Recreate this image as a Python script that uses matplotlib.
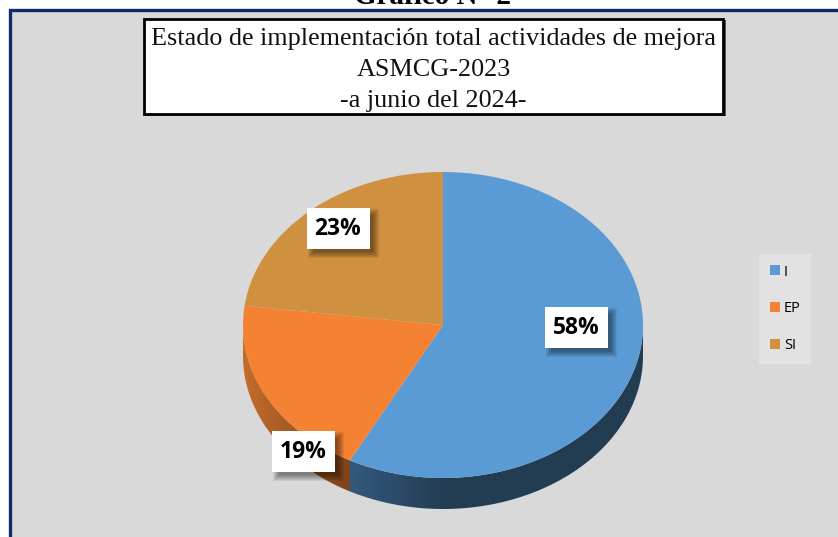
import numpy as np
import matplotlib
matplotlib.use('Agg')
import matplotlib.pyplot as plt
from matplotlib.colors import LinearSegmentedColormap
from matplotlib.patches import Rectangle, Polygon

categories = ['I', 'EP', 'SI']
values = [57.7, 19.3, 23]
colors = ['#5b9bd5', '#f58233', '#cf9040']
pct_labels = ['58%', '19%', '23%']
title_lines = ['Estado de implementación total actividades de mejora', 'ASMCG-2023', '-a junio del 2024-']
W, H = 838, 537

fig = plt.figure(figsize=(W / 100, H / 100), dpi=100, facecolor='white')

# background in pixel coordinates
bg = fig.add_axes([0, 0, 1, 1])
bg.set_xlim(0, W)
bg.set_ylim(H, 0)
bg.axis('off')
bg.add_patch(Rectangle((9.5, 9.5), W + 20, H + 20, fc='#d9d9d9', ec='#0d2c6e', lw=2.4))
bg.text(432.5, -3, 'Gráfico N° 2', family='Liberation Serif', weight='bold', fontsize=21, ha='center', va='center')

# title box
bg.add_patch(Rectangle((145, 20), 581, 96, fc='#555555', ec='none'))
bg.add_patch(Rectangle((144, 18.5), 579, 95.5, fc='white', ec='black', lw=2))
for i, line in enumerate(title_lines):
    bg.text(433.5, 39.5 + i * 30.5, line, family='Liberation Serif', fontsize=18.8, ha='center', va='center', color='#111111')

# pie squashed into an ellipse, wall below it
depth = 31 / 153
px, py, pw, ph = 243, 172, 400, 306 + 31
ax = fig.add_axes([px / W, 1 - (py + ph) / H, pw / W, ph / H])
ax.patch.set_alpha(0)
ax.pie(values, colors=colors, startangle=90, counterclock=False, radius=1)
ax.set_aspect('auto')

edges = np.cumsum([0] + values) / sum(values) * 360
blue_cmap = LinearSegmentedColormap.from_list('b', ['#33597c', '#223c52', '#223c52', '#223c52'])
orange_cmap = LinearSegmentedColormap.from_list('o', ['#c46d2d', '#7d431a'])
wall_cmaps = [blue_cmap, orange_cmap]
for i in range(2):
    a0 = max(edges[i], 90)
    a1 = min(edges[i + 1], 270)
    th = np.radians(np.linspace(a0, a1, 120))
    x = np.sin(th)
    y = np.cos(th)
    pts = np.column_stack([np.r_[x, x[::-1]], np.r_[y, y[::-1] - depth]])
    poly = Polygon(pts, closed=True, fc='none', ec='none', transform=ax.transData)
    ax.add_patch(poly)
    grad = np.linspace(0, 1, 256).reshape(1, -1)
    im = ax.imshow(grad, extent=[x.min(), x.max(), -1 - depth, 1], aspect='auto', cmap=wall_cmaps[i], zorder=0)
    im.set_clip_path(poly)
ax.set_xlim(-1, 1)
ax.set_ylim(-1 - depth, 1)
ax.set_aspect('auto')

# percent labels on a top layer
top = fig.add_axes([0, 0, 1, 1], facecolor='none')
top.set_xlim(0, W)
top.set_ylim(H, 0)
top.axis('off')
label_pos = [(576.5, 327), (303.5, 451.5), (338, 228)]
for txt, (lx, ly) in zip(pct_labels, label_pos):
    # soft shadow
    for grow in [4, 3, 2, 1, 0, -1, -2]:
        top.add_patch(Rectangle((lx - 31.5 + 5 - grow, ly - 20.5 + 5 - grow), 63 + 2 * grow, 41 + 2 * grow,
                                fc='black', ec='none', alpha=0.07, zorder=3))
    top.add_patch(Rectangle((lx - 31.5, ly - 20.5), 63, 41, fc='white', ec='none', zorder=4))
    top.text(lx, ly + 1, txt, family='Open Sans', weight='bold', fontsize=16.5, ha='center', va='center', zorder=5, color='black')

# legend
handles = [Rectangle((0, 0), 1, 1, fc=c, ec='none') for c in colors]
leg = fig.legend(handles, categories, loc='upper left', bbox_to_anchor=(759 / W, 1 - 254 / H), borderaxespad=0,
                 frameon=True, facecolor='#e2e2e2', edgecolor='none', fancybox=False, framealpha=1,
                 prop={'family': 'Open Sans', 'size': 10.5}, labelspacing=1.5, handlelength=0.69, handleheight=0.69,
                 handletextpad=0.3, borderpad=0.72)
leg.set_zorder(10)

fig.savefig('out.png', dpi=100)
